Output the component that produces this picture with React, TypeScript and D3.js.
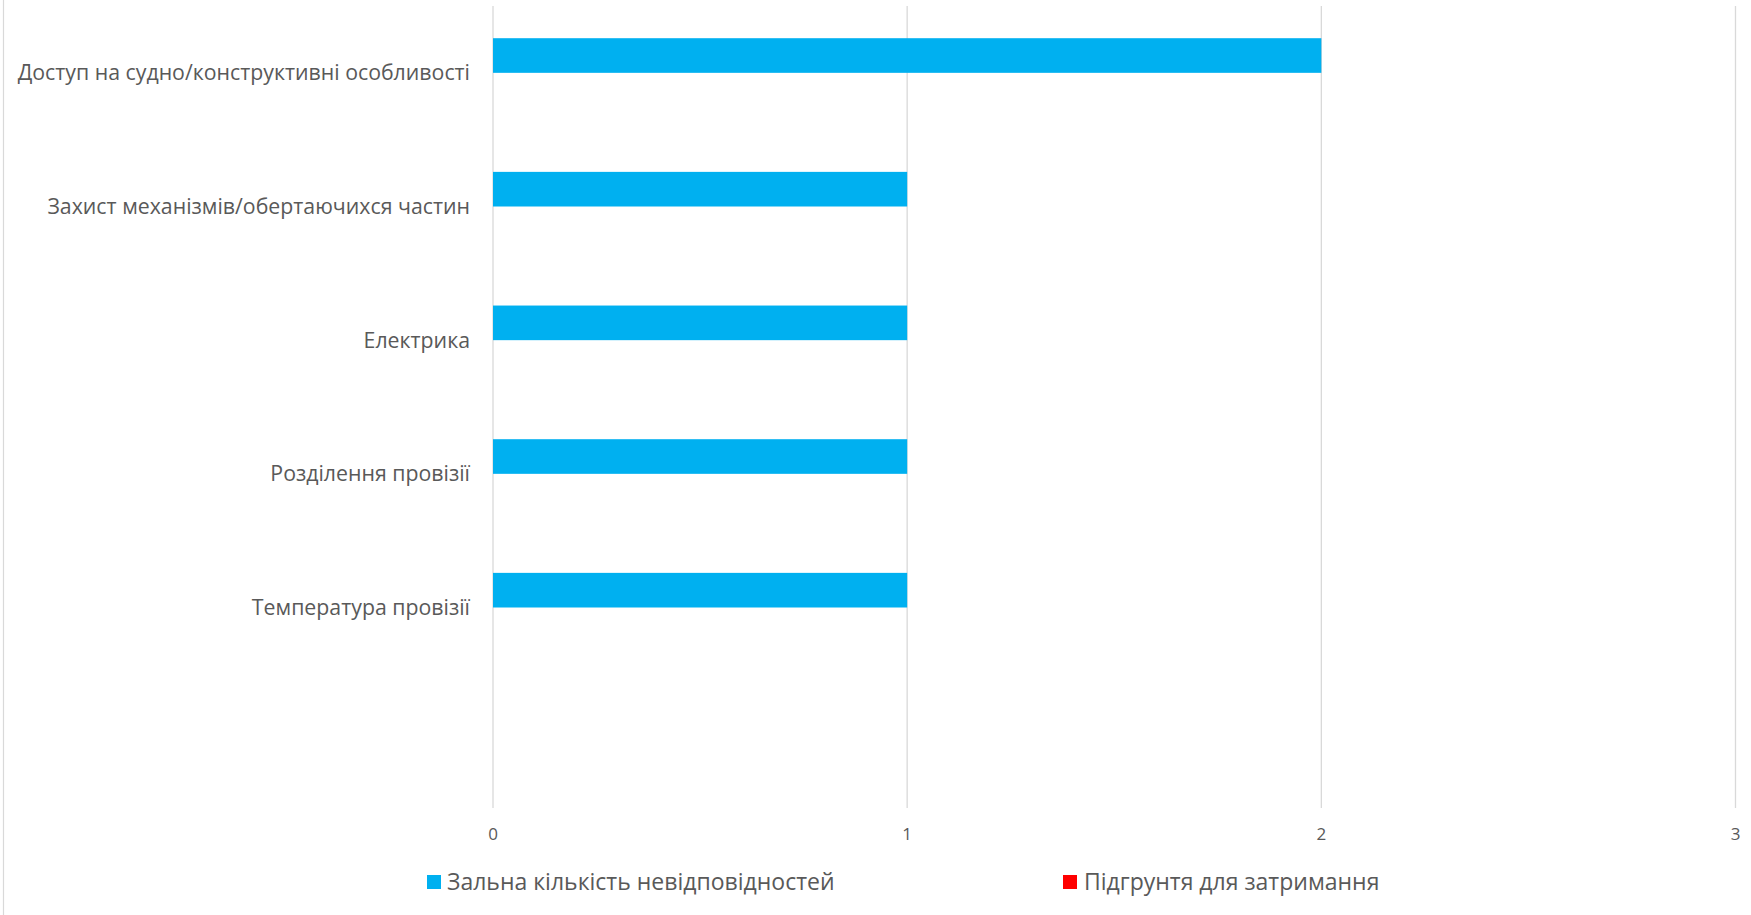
import React from "react";
import * as d3 from "d3";

const categories: string[] = [
  "Доступ на судно/конструктивні особливості",
  "Захист механізмів/обертаючихся частин",
  "Електрика",
  "Розділення провізії",
  "Температура провізії",
  "",
];
const seriesNames: string[] = ["Зальна кількість невідповідностей", "Підгрунтя для затримання"];
const totalValues: number[] = [2, 1, 1, 1, 1, 0];
const detentionValues: number[] = [0, 0, 0, 0, 0, 0];
const xTicks: number[] = [0, 1, 2, 3];
const seriesColors: string[] = ["#00B0F0", "#FF0000"];

const W = 1751;
const H = 915;
const FONT = "'Open Sans', 'Noto Sans', sans-serif";
const TEXT = "#595959";
const GRID = "#d9d9d9";

export default function App() {
  const left = 493;
  const right = 1735.5;
  const top = 6;
  const bottom = 808;

  const x = d3.scaleLinear().domain([0, 3]).range([left, right]);
  const idx = categories.map((_, i) => String(i));
  const y = d3.scaleBand<string>().domain(idx).range([top, bottom]).padding(0);
  const sub = d3
    .scaleBand<string>()
    .domain(["0", "1"])
    .range([0, y.bandwidth()])
    .paddingInner(0)
    .paddingOuter(0.93);

  const series = [totalValues, detentionValues];

  return (
    <svg
      width={W}
      height={H}
      style={{ position: "absolute", left: 0, top: 0, display: "block", background: "#fff" }}
    >
      <line x1={3.5} x2={3.5} y1={0} y2={H} stroke={GRID} strokeWidth={1.2} />
      {xTicks.map((t) => (
        <g key={t}>
          <line x1={x(t)} x2={x(t)} y1={top} y2={bottom} stroke={GRID} strokeWidth={1.3} />
          <text
            x={x(t)}
            y={840}
            textAnchor="middle"
            fontFamily={FONT}
            fontSize={17}
            fill={TEXT}
          >
            {t}
          </text>
        </g>
      ))}
      {series.map((vals, s) =>
        vals.map((v, i) =>
          v > 0 ? (
            <rect
              key={`${s}-${i}`}
              x={x(0)}
              y={(y(String(i)) as number) + (sub(String(s)) as number)}
              width={x(v) - x(0)}
              height={sub.bandwidth()}
              fill={seriesColors[s]}
            />
          ) : null
        )
      )}
      {categories.map((c, i) => (
        <text
          key={i}
          x={470}
          y={(y(String(i)) as number) + y.bandwidth() / 2}
          dy="0.35em"
          textAnchor="end"
          fontFamily={FONT}
          fontSize={21.3}
          fill={TEXT}
        >
          {c}
        </text>
      ))}
      <g>
        <rect x={427} y={875} width={14} height={14} fill={seriesColors[0]} />
        <text x={447} y={882} dy="0.35em" fontFamily={FONT} fontSize={23} fill={TEXT}>
          {seriesNames[0]}
        </text>
        <rect x={1063} y={875} width={14} height={14} fill={seriesColors[1]} />
        <text x={1084} y={882} dy="0.35em" fontFamily={FONT} fontSize={23} fill={TEXT}>
          {seriesNames[1]}
        </text>
      </g>
    </svg>
  );
}
